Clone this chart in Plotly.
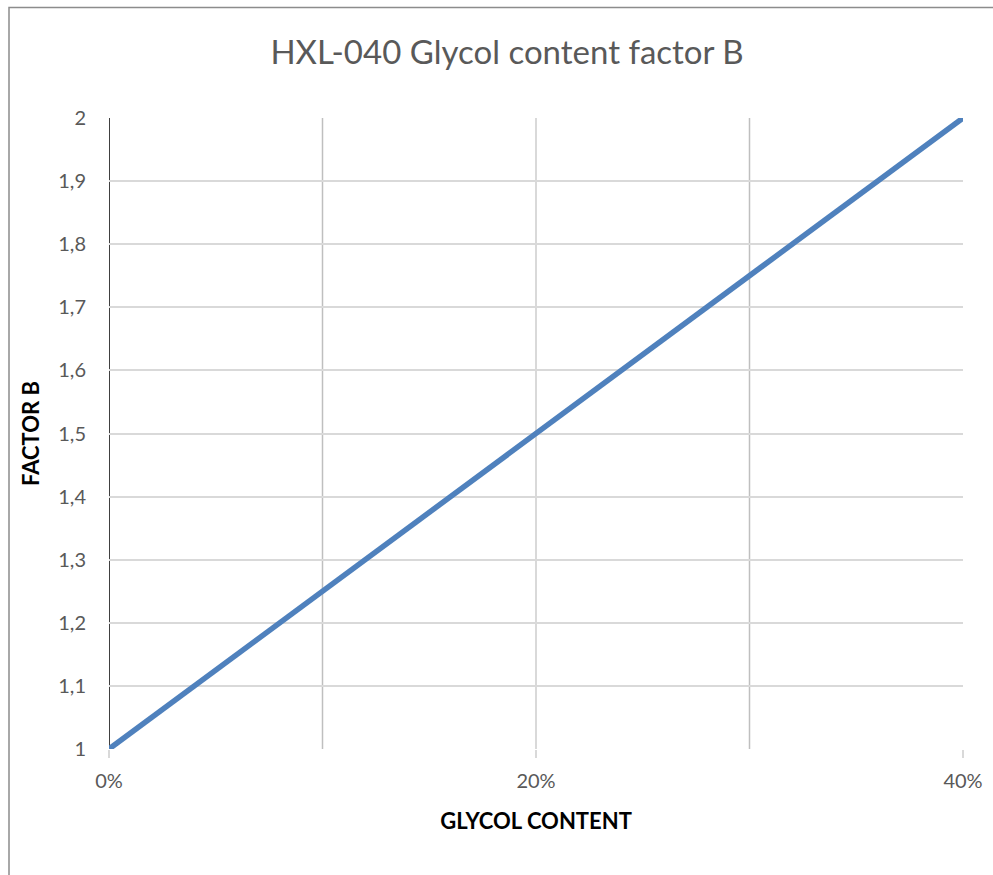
import plotly.graph_objects as go

# Glycol content (fraction) and the matching correction factor B
glycol_content = [0.0, 0.40]
factor_b = [1.0, 2.0]

x_tick_vals = [0.0, 0.2, 0.4]
y_tick_vals = [1.0, 1.1, 1.2, 1.3, 1.4, 1.5, 1.6, 1.7, 1.8, 1.9, 2.0]
dark_grid_x = [0.1, 0.3]

W, H = 993, 875
L, R, T, B = 109, 30, 118, 126
pw, ph = W - L - R, H - T - B

def px_to_paper_x(px):
    return (px - L) / pw

def py_to_paper_y(py):
    return (H - B - py) / ph

font_family = "Lato, 'Open Sans', sans-serif"

fig = go.Figure()
fig.add_trace(go.Scatter(
    x=glycol_content, y=factor_b, mode="lines",
    line=dict(color="#4F81BD", width=5.5),
    showlegend=False, hoverinfo="skip",
))

shapes = []
# darker vertical gridlines at 10% and 30%
for xv in dark_grid_x:
    shapes.append(dict(type="line", xref="x", yref="y", x0=xv, x1=xv, y0=1.0, y1=2.0,
                       line=dict(color="#BFBFBF", width=1.5), layer="below"))
# left axis line
shapes.append(dict(type="line", xref="x", yref="y", x0=0, x1=0, y0=1.0, y1=2.0,
                   line=dict(color="#000000", width=1.5), layer="below"))
# outer chart border
shapes.append(dict(type="rect", xref="paper", yref="paper",
                   x0=px_to_paper_x(9), x1=px_to_paper_x(1010),
                   y0=py_to_paper_y(900), y1=py_to_paper_y(7.5),
                   line=dict(color="#8C8C8C", width=1.5), fillcolor="rgba(0,0,0,0)"))

fig.update_layout(
    width=W, height=H,
    margin=dict(l=L, r=R, t=T, b=B),
    paper_bgcolor="white", plot_bgcolor="white",
    separators=",.",
    font=dict(family=font_family, color="#595959", size=20),
    title=dict(text="HXL-040 Glycol content factor B", x=507 / W,
               xanchor="center", y=1 - 52 / H, yanchor="middle",
               font=dict(size=33, color="#595959", family=font_family)),
    xaxis=dict(range=[0, 0.4], tickvals=x_tick_vals, tickformat=".0%",
               automargin=False,
               showgrid=True, gridcolor="#D9D9D9", gridwidth=1.5,
               zeroline=False, showline=False, ticks="outside", ticklen=8,
               tickcolor="#D9D9D9", tickwidth=1.5, ticklabelstandoff=6,
               tickfont=dict(size=20, color="#595959"),
               title=dict(text="<b>GLYCOL CONTENT</b>", standoff=22,
                          font=dict(size=22, color="#000000"))),
    yaxis=dict(range=[1, 2], tickvals=y_tick_vals,
               automargin=False,
               showgrid=True, gridcolor="#D9D9D9", gridwidth=1.5,
               zeroline=False, showline=False, ticks="", ticklabelstandoff=22,
               tickfont=dict(size=20, color="#595959"),
               title=dict(text="<b>FACTOR B</b>", standoff=12,
                          font=dict(size=22, color="#000000"))),
    shapes=shapes,
)

fig.write_html("out.html")
